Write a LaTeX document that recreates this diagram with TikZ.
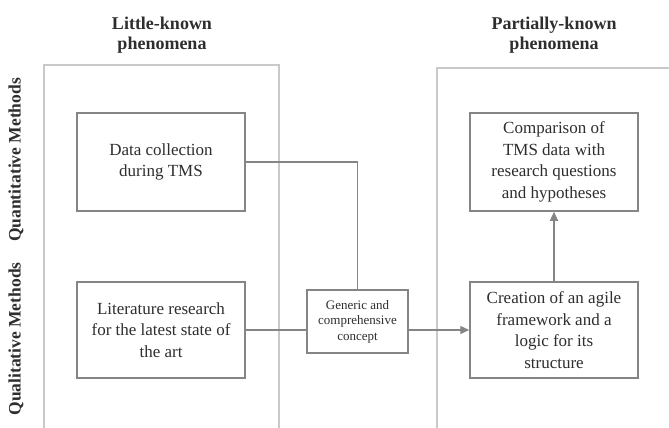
\documentclass[tikz,border=0pt]{standalone}
\usepackage{fontspec}
\setmainfont{Liberation Serif}
\usetikzlibrary{arrows.meta}
\definecolor{inkgrey}{HTML}{2E2E2E}
\definecolor{linegrey}{HTML}{858585}
\definecolor{framegrey}{HTML}{C9C9C9}
\begin{document}
\begin{tikzpicture}[x=1pt,y=-1pt,
  frame/.style={draw=framegrey,line width=1.1pt},
  stepbox/.style={draw=linegrey,line width=1.5pt,rectangle,align=center,
    text=inkgrey,font=\fontsize{17}{21.5}\selectfont,inner sep=2pt},
  smallbox/.style={draw=linegrey,line width=1.3pt,rectangle,align=center,
    text=inkgrey,font=\fontsize{13}{15.5}\selectfont,inner sep=2pt},
  heading/.style={align=center,text=inkgrey,font=\fontsize{18}{20}\selectfont\bfseries},
  sidelabel/.style={rotate=90,text=inkgrey,font=\fontsize{17.5}{20}\selectfont\bfseries},
  link/.style={draw=linegrey,line width=1.4pt},
  arrowlink/.style={link,-{Triangle[length=9pt,width=8pt]}}]
\useasboundingbox[fill=white] (0,0) rectangle (669,428);

% outer frames for the two kinds of phenomena
\draw[frame] (44,432) -- (44,65) -- (279,65) -- (279,432);
\draw[frame] (437,432) -- (437,68) -- (672,68);

% headings
\node[heading] (hleft) at (162,35) {Little-known\\phenomena};
\node[heading] (hright) at (554,35) {Partially-known\\phenomena};

% method labels
\node[sidelabel] (quant) at (16,160) {Quantitative Methods};
\node[sidelabel] (qual) at (16,339) {Qualitative Methods};

% steps
\node[stepbox,minimum width=168pt,minimum height=98pt] (data) at (161,162)
  {Data collection\\during TMS};
\node[stepbox,minimum width=168pt,minimum height=96pt] (lit) at (161,330)
  {Literature research\\for the latest state of\\the art};
\node[smallbox,minimum width=101pt,minimum height=63pt] (gen) at (357.5,321.5)
  {Generic and\\comprehensive\\concept};
\node[stepbox,minimum width=168pt,minimum height=98pt] (cmp) at (554,162)
  {Comparison of\\TMS data with\\research questions\\and hypotheses};
\node[stepbox,minimum width=168pt,minimum height=96pt] (cre) at (554,330)
  {Creation of an agile\\framework and a\\logic for its\\structure};

% connectors
\draw[link] (data.east) -| (gen.north);
\draw[link] (lit.east) -- (lit.east -| gen.west);
\draw[arrowlink] (gen.east |- cre.west) -- (cre.west);
\draw[arrowlink] (cre.north) -- (cmp.south);
\end{tikzpicture}
\end{document}
